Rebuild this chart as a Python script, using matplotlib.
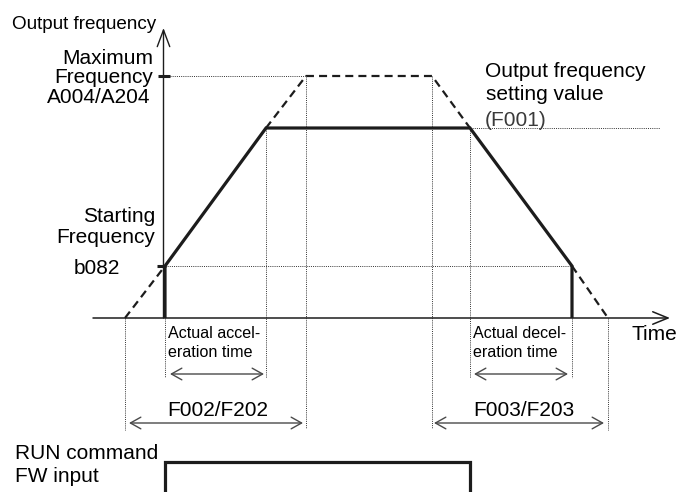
import matplotlib.pyplot as plt
from matplotlib import font_manager

# --- Diagram values (time in px-like units, frequency measured up from time axis) ---
acc_t = [125, 165, 266, 306]      # dashed start, b082 reached, F001 reached, max reached
dec_t = [432, 470, 572, 608]      # leave max, leave F001, b082 reached, dashed stop
f_zero = 0
f_b082 = 52
f_set = 190
f_max = 242
run_on, run_off, run_level = 165, 470, -144

t_axis = [93, 670]
f_axis = [0, 290]

# --- Fonts ---
fams = [f.name for f in font_manager.fontManager.ttflist]
narrow = 'Liberation Sans Narrow' if 'Liberation Sans Narrow' in fams else 'Liberation Sans'
small_fs = 12.5 if narrow == 'Liberation Sans Narrow' else 11.6
plt.rcParams['font.family'] = ['Liberation Sans', 'DejaVu Sans']

fig = plt.figure(figsize=(6.8, 4.92), dpi=100)
ax = fig.add_axes([0, 0, 1, 1])
ax.set_xlim(0, 680)
ax.set_ylim(-174, 318)
ax.axis('off')

dark = '#1c1c1c'
dot = dict(color='#333333', lw=0.7, linestyle=(0, (1, 1.2)))
dash = dict(color=dark, lw=1.6, linestyle=(0, (3.6, 2.3)))
thick = dict(color=dark, lw=2.3, solid_capstyle='butt', solid_joinstyle='miter')

# --- dotted guides ---
ax.plot([170, acc_t[3]], [f_max, f_max], **dot)
ax.plot([dec_t[1], 660], [f_set, f_set], **dot)
ax.plot([acc_t[1], dec_t[2]], [f_b082, f_b082], **dot)
ax.plot([acc_t[0], acc_t[0]], [f_zero, -112], **dot)
ax.plot([acc_t[1], acc_t[1]], [f_zero, -59], **dot)
ax.plot([acc_t[2], acc_t[2]], [f_set, -60], **dot)
ax.plot([acc_t[3], acc_t[3]], [f_max, -110], **dot)
ax.plot([dec_t[0], dec_t[0]], [f_max, -110], **dot)
ax.plot([dec_t[1], dec_t[1]], [f_set, -60], **dot)
ax.plot([dec_t[2], dec_t[2]], [f_zero, -60], **dot)
ax.plot([dec_t[3], dec_t[3]], [f_zero, -112], **dot)

# --- axes with arrows ---
ax.annotate('', xy=(t_axis[1], 0), xytext=(t_axis[0], 0),
            arrowprops=dict(arrowstyle='->,head_length=1.1,head_width=0.45',
                            color=dark, lw=1.1, shrinkA=0, shrinkB=0, mutation_scale=10))
ax.annotate('', xy=(163.5, f_axis[1]), xytext=(163.5, f_axis[0]),
            arrowprops=dict(arrowstyle='->,head_length=1.2,head_width=0.45',
                            color=dark, lw=1.0, shrinkA=0, shrinkB=0, mutation_scale=10))

# ticks
ax.plot([158, 170], [f_max, f_max], color=dark, lw=2.2, solid_capstyle='butt')
ax.plot([157, 166], [f_b082, f_b082], color=dark, lw=2.2, solid_capstyle='butt')

# --- dashed theoretical profile ---
ax.plot(acc_t[:2], [f_zero, f_b082], **dash)
ax.plot([acc_t[2], acc_t[3], dec_t[0], dec_t[1]], [f_set, f_max, f_max, f_set], **dash)
ax.plot(dec_t[2:], [f_b082, f_zero], **dash)

# --- actual output profile ---
ax.plot([acc_t[1], acc_t[1], acc_t[2], dec_t[1], dec_t[2], dec_t[2]],
        [f_zero, f_b082, f_set, f_set, f_b082, f_zero], **thick)

# --- RUN command signal ---
ax.plot([run_on, run_on, run_off, run_off], [-180, run_level, run_level, -180], **thick)

# --- dimension arrows ---
def dim(x0, x1, y):
    ax.annotate('', xy=(x1, y), xytext=(x0, y),
                arrowprops=dict(arrowstyle='<->,head_length=0.75,head_width=0.42',
                                color='#4a4a4a', lw=1.0, shrinkA=0, shrinkB=0,
                                mutation_scale=10))

dim(170, 264, -56)
dim(129, 303, -105)
dim(474, 568, -56)
dim(434, 604, -105)

fs = 15
ax.text(12, 318 - 29, 'Output frequency', fontsize=13.6, ha='left', va='baseline')
ax.text(153, 318 - 64, 'Maximum', fontsize=fs, ha='right', va='baseline')
ax.text(153, 318 - 83, 'Frequency', fontsize=fs, ha='right', va='baseline')
ax.text(150, 318 - 103, 'A004/A204', fontsize=fs, ha='right', va='baseline')
ax.text(155, 318 - 222, 'Starting', fontsize=fs, ha='right', va='baseline')
ax.text(155, 318 - 243, 'Frequency', fontsize=fs, ha='right', va='baseline')
ax.text(120, 318 - 274, 'b082', fontsize=fs, ha='right', va='baseline')
ax.text(485, 318 - 77, 'Output frequency', fontsize=fs, ha='left', va='baseline')
ax.text(486, 318 - 100, 'setting value', fontsize=fs, ha='left', va='baseline')
ax.text(485, 318 - 126, '(F001)', fontsize=fs, ha='left', va='baseline', color='#3a3a3a')
ax.text(632, 318 - 340, 'Time', fontsize=fs, ha='left', va='baseline')

ax.text(168, 318 - 338, 'Actual accel-', fontsize=small_fs, family=narrow, ha='left', va='baseline')
ax.text(168, 318 - 357, 'eration time', fontsize=small_fs, family=narrow, ha='left', va='baseline')
ax.text(473, 318 - 338, 'Actual decel-', fontsize=small_fs, family=narrow, ha='left', va='baseline')
ax.text(473, 318 - 357, 'eration time', fontsize=small_fs, family=narrow, ha='left', va='baseline')

ax.text(218, 318 - 416, 'F002/F202', fontsize=fs, ha='center', va='baseline')
ax.text(524, 318 - 416, 'F003/F203', fontsize=fs, ha='center', va='baseline')

ax.text(15, 318 - 459, 'RUN command', fontsize=fs, ha='left', va='baseline')
ax.text(15, 318 - 482, 'FW input', fontsize=fs, ha='left', va='baseline')

fig.savefig('out.png', dpi=100)
